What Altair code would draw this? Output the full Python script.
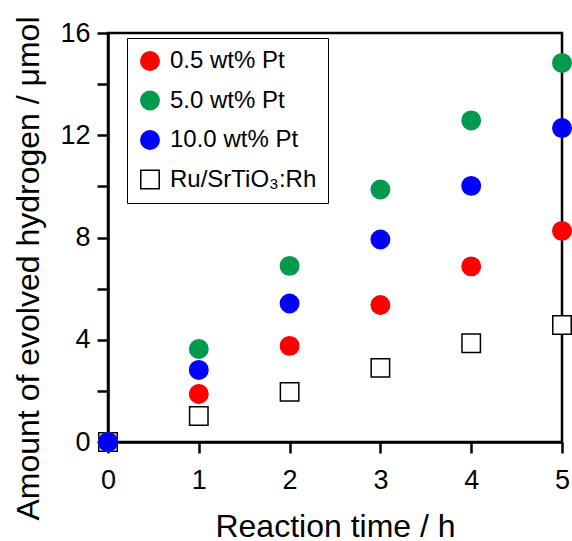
import altair as alt
import pandas as pd

times = [0, 1, 2, 3, 4, 5]
series_names = ["0.5 wt% Pt", "5.0 wt% Pt", "10.0 wt% Pt", "Ru/SrTiO₃:Rh"]
h2_05 = [0.0, 1.88, 3.76, 5.36, 6.87, 8.26]
h2_50 = [0.0, 3.64, 6.89, 9.88, 12.58, 14.83]
h2_100 = [0.0, 2.82, 5.42, 7.92, 10.02, 12.28]
h2_ru = [0.0, 1.02, 1.96, 2.90, 3.86, 4.58]

fill_colors = ["#ff0000", "#009a4e", "#0000ff", "#ffffff"]
stroke_colors = ["#ff0000", "#009a4e", "#0000ff", "#000000"]
shapes = ["circle", "circle", "circle", "square"]

# draw order: square first, blue on top
order = [(series_names[3], h2_ru), (series_names[0], h2_05),
         (series_names[1], h2_50), (series_names[2], h2_100)]
rows = []
for name, vals in order:
    for t, v in zip(times, vals):
        rows.append({"time": t, "h2": v, "series": name})
df = pd.DataFrame(rows)

FONT = "Liberation Sans"

legend = alt.Legend(
    title=None, orient="none", legendX=19, legendY=5,
    padding=11, rowPadding=13.5, labelFontSize=24, labelFont=FONT,
    labelColor="black", labelOffset=8, symbolSize=340,
    symbolStrokeWidth=1.5, strokeColor="black", fillColor="white",
    labelLimit=400,
)

chart = alt.Chart(df).mark_point(filled=True, opacity=1, clip=False, strokeWidth=1.5, size=340).encode(
    x=alt.X("time:Q", scale=alt.Scale(domain=[0, 5], nice=False, zero=False),
            axis=alt.Axis(title="Reaction time / h", values=times, format="d",
                          labelFlush=False, labelOverlap=False, labelBaseline="alphabetic",
                          labelPadding=35, titleBaseline="alphabetic", titleY=94)),
    y=alt.Y("h2:Q", scale=alt.Scale(domain=[0, 16], nice=False),
            axis=alt.Axis(title="Amount of evolved hydrogen / μmol",
                          values=[0, 2, 4, 6, 8, 10, 12, 14, 16],
                          labelExpr="datum.value % 4 == 0 ? datum.label : ''",
                          labelFlush=False, labelOverlap=False, labelPadding=7,
                          titleX=-63, titleY=235, titleBaseline="bottom")),
    fill=alt.Fill("series:N", scale=alt.Scale(domain=series_names, range=fill_colors), legend=legend),
    stroke=alt.Stroke("series:N", scale=alt.Scale(domain=series_names, range=stroke_colors), legend=legend),
    shape=alt.Shape("series:N", scale=alt.Scale(domain=series_names, range=shapes), legend=legend),
).properties(
    width=454, height=409,
    padding={"left": 108, "top": 33, "right": 10, "bottom": 99},
    autosize=alt.AutoSizeParams(type="none"),
    background="white",
).configure_view(
    stroke="black", strokeWidth=2.5
).configure_axis(
    grid=False, domainColor="black", domainWidth=2.5, tickColor="black",
    tickWidth=2.5, tickSize=11, labelFont=FONT, labelFontSize=27,
    labelColor="black", titleFont=FONT, titleFontSize=32,
    titleFontWeight="normal", titleColor="black",
)

chart.save("out.html", embed_options={"renderer": "svg", "actions": False})
